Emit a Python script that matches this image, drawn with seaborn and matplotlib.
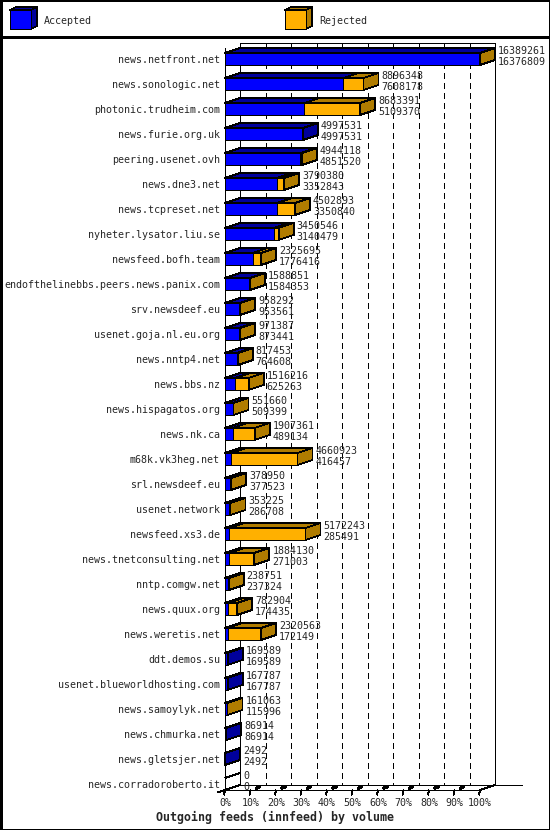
import matplotlib
matplotlib.use("Agg")
import matplotlib.pyplot as plt
import numpy as np
import pandas as pd
import seaborn as sns
from matplotlib.patches import Polygon, Rectangle

# ---------------- data ----------------
hosts = [
    "news.netfront.net", "news.sonologic.net", "photonic.trudheim.com",
    "news.furie.org.uk", "peering.usenet.ovh", "news.dne3.net",
    "news.tcpreset.net", "nyheter.lysator.liu.se", "newsfeed.bofh.team",
    "endofthelinebbs.peers.news.panix.com", "srv.newsdeef.eu",
    "usenet.goja.nl.eu.org", "news.nntp4.net", "news.bbs.nz",
    "news.hispagatos.org", "news.nk.ca", "m68k.vk3heg.net",
    "srl.newsdeef.eu", "usenet.network", "newsfeed.xs3.de",
    "news.tnetconsulting.net", "nntp.comgw.net", "news.quux.org",
    "news.weretis.net", "ddt.demos.su", "usenet.blueworldhosting.com",
    "news.samoylyk.net", "news.chmurka.net", "news.gletsjer.net",
    "news.corradoroberto.it",
]
offered = [
    16389261, 8896348, 8683391, 4997531, 4944118, 3790380, 4502893, 3450546,
    2325695, 1588851, 958292, 971387, 817453, 1516216, 551660, 1907361,
    4660923, 378950, 353225, 5172243, 1884130, 238751, 782904, 2320563,
    169589, 167787, 161063, 86914, 2492, 0,
]
accepted = [
    16376809, 7608178, 5109370, 4997531, 4851520, 3352843, 3350840, 3140479,
    1776416, 1584353, 953561, 873441, 764608, 625263, 509399, 489134,
    416457, 377523, 286708, 285491, 271003, 237324, 174435, 172149,
    169589, 167787, 115996, 86914, 2492, 0,
]
x_tick_labels = ["0%", "10%", "20%", "30%", "40%", "50%", "60%", "70%", "80%", "90%", "100%"]
legend_labels = ["Accepted", "Rejected"]
chart_title = "Outgoing feeds (innfeed) by volume"

# ---------------- style ----------------
sns.set_theme(style="white")
plt.rcParams["font.family"] = ["DejaVu Sans Mono", "DejaVu Sans"]
plt.rcParams["lines.scale_dashes"] = False
plt.rcParams["lines.antialiased"] = False
plt.rcParams["patch.antialiased"] = False

BLUE, DBLUE = "#0000FF", "#00009C"
ORANGE, DORANGE = "#FFB000", "#B07C00"
FS = 7.2
LW = 0.6

W, H, DPI = 550, 830, 100
fig = plt.figure(figsize=(W / DPI, H / DPI), dpi=DPI)
fig.patch.set_facecolor("white")

# background / frame axes in pixel coordinates
bg = fig.add_axes([0, 0, 1, 1], zorder=-1)
bg.set_xlim(0, W)
bg.set_ylim(H, 0)
bg.axis("off")

FL, FR, FT, FB = 225, 480, 48, 790
ax = fig.add_axes([FL / W, (H - FB) / H, (FR - FL) / W, (FB - FT) / H])
ax.patch.set_alpha(0)

df = pd.DataFrame({"host": hosts, "offered": offered, "accepted": accepted})
n = len(hosts)
MAXV = max(offered)
BAR_W = 0.48

sns.barplot(data=df, y="host", x="offered", orient="h", color=ORANGE,
            saturation=1, width=BAR_W, edgecolor="black", linewidth=LW,
            errorbar=None, ax=ax, zorder=3)
sns.barplot(data=df, y="host", x="accepted", orient="h", color=BLUE,
            saturation=1, width=BAR_W, edgecolor="black", linewidth=LW,
            errorbar=None, ax=ax, zorder=3)

Y_TOP, Y_BOT = -0.44, n - 1 + 0.24
ax.set_xlim(0, MAXV)
ax.set_ylim(Y_BOT, Y_TOP)
for s in ax.spines.values():
    s.set_visible(False)
ax.set_xlabel("")
ax.set_ylabel("")

pxx = (FR - FL) / MAXV              # pixels per data unit (x)
pxy = (FB - FT) / (Y_BOT - Y_TOP)   # pixels per row (y)
DX = 15 / pxx
DY = 5 / pxy

def line(xs, ys, **kw):
    kw.setdefault("color", "black")
    kw.setdefault("lw", LW)
    ax.plot(xs, ys, clip_on=False, solid_capstyle="butt", **kw)

# back wall, grid and floor
yt_b, yb_b = Y_TOP - DY, Y_BOT - DY
for k in range(1, 10):
    xg = MAXV * k / 10 + DX
    line([xg, xg], [yt_b, yb_b], ls=(0, (3.6, 2.9)), zorder=1)
line([DX, DX], [yt_b, yb_b], zorder=1)
line([MAXV + DX, MAXV + DX], [yt_b, yb_b], zorder=1)
line([DX, MAXV + DX], [yt_b, yt_b], zorder=1)
line([DX, MAXV + DX + 27 / pxx], [yb_b, yb_b], zorder=1)
line([0, 0], [Y_TOP, Y_BOT], zorder=5)
line([0, MAXV], [Y_BOT, Y_BOT], zorder=5)
line([MAXV, MAXV + DX], [Y_BOT, yb_b], zorder=5)
line([DX, -7 / pxx], [yb_b, Y_BOT + 2.3 / pxy], zorder=5)
for k in range(11):
    xk = MAXV * k / 10
    line([xk, xk - 1 / pxx], [Y_BOT, Y_BOT + 5 / pxy], zorder=5)
    if 0 < k < 10:
        line([xk + 5 / pxx, xk + 10 / pxx], [Y_BOT - 1.5 / pxy, Y_BOT - 3.5 / pxy],
             lw=1.6, zorder=5)

# 3D faces of the bars
orange_bars = ax.containers[0]
blue_bars = ax.containers[1]
for i in range(n):
    ob = orange_bars[i]
    bb = blue_bars[i]
    yt = ob.get_y()
    yb = yt + ob.get_height()
    off = ob.get_width()
    acc = bb.get_width()
    if off <= 0:
        line([0, DX], [yt, yt - DY], zorder=4)
    else:
        if acc > 0:
            ax.add_patch(Polygon([(0, yt), (acc, yt), (acc + DX, yt - DY), (DX, yt - DY)],
                                 closed=True, fc=DBLUE, ec="black", lw=LW,
                                 zorder=3, clip_on=False))
        if off > acc:
            ax.add_patch(Polygon([(acc, yt), (off, yt), (off + DX, yt - DY), (acc + DX, yt - DY)],
                                 closed=True, fc=DORANGE, ec="black", lw=LW,
                                 zorder=3, clip_on=False))
        side = DORANGE if off > acc else DBLUE
        ax.add_patch(Polygon([(off, yt), (off, yb), (off + DX, yb - DY), (off + DX, yt - DY)],
                             closed=True, fc=side, ec="black", lw=LW,
                             zorder=3, clip_on=False))
    yc = yt + ob.get_height() / 2
    xt = off + DX + 3 / pxx
    ax.text(xt, yc - 8.5 / pxy, f"{offered[i]}", fontsize=FS, ha="left",
            va="center", clip_on=False, zorder=8)
    ax.text(xt, yc + 2.5 / pxy, f"{accepted[i]}", fontsize=FS, ha="left",
            va="center", clip_on=False, zorder=8)

# ticks and labels
ax.set_yticks(range(n))
ax.set_yticklabels(hosts)
ax.set_xticks([MAXV * k / 10 for k in range(11)])
ax.set_xticklabels(x_tick_labels)
ax.tick_params(axis="y", length=0, pad=3.6, labelsize=FS)
ax.tick_params(axis="x", length=0, pad=5.5, labelsize=FS)

# ---------------- legend, frame, title ----------------
def cube(x, y, w, h, dx, dy, front, dark):
    bg.add_patch(Polygon([(x, y), (x + w, y), (x + w + dx, y - dy), (x + dx, y - dy)],
                         closed=True, fc=dark, ec="black", lw=LW))
    bg.add_patch(Polygon([(x + w, y), (x + w, y + h), (x + w + dx, y + h - dy), (x + w + dx, y - dy)],
                         closed=True, fc=dark, ec="black", lw=LW))
    bg.add_patch(Rectangle((x, y), w, h, fc=front, ec="black", lw=LW))

cube(10, 10, 21, 19, 6, 3, BLUE, DBLUE)
bg.text(44, 21, legend_labels[0], fontsize=FS, ha="left", va="center")
cube(285, 10, 21, 19, 6, 3, ORANGE, DORANGE)
bg.text(319, 21, legend_labels[1], fontsize=FS, ha="left", va="center")

bg.add_patch(Rectangle((0.5, 0.5), W - 1, H - 1, fill=False, ec="black", lw=1.0))
bg.plot([0, W], [37, 37], color="black", lw=1.0)
bg.text(275, 817, chart_title, fontsize=8.4, fontweight="bold",
        ha="center", va="center")

fig.savefig("out.png", dpi=DPI, facecolor="white")
